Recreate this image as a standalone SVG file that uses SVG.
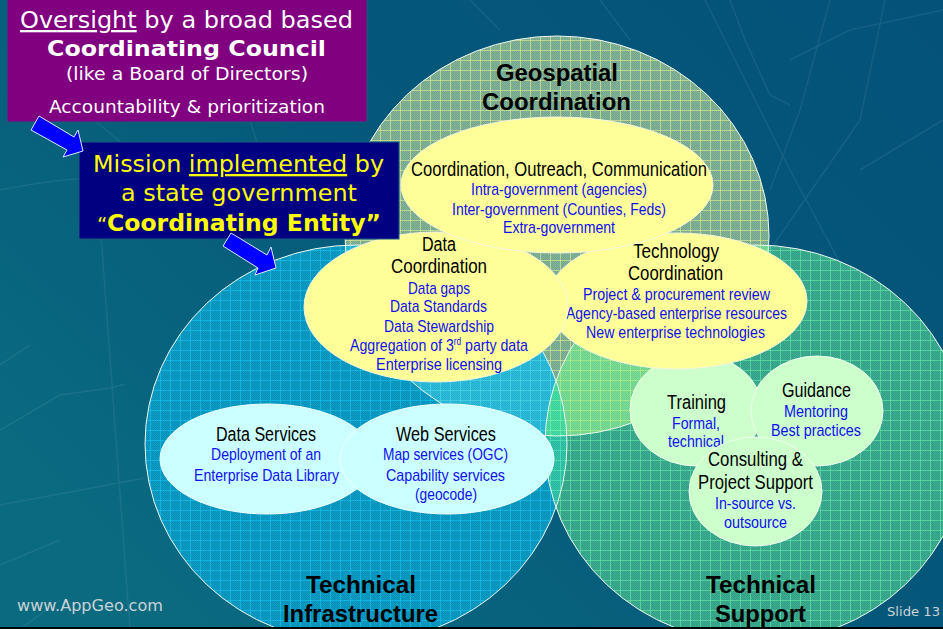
<svg xmlns="http://www.w3.org/2000/svg" width="943" height="629" viewBox="0 0 943 629">
<style>
text{text-anchor:start;font-family:"Liberation Sans",Arial,sans-serif}
.v{font-family:"DejaVu Sans",Verdana,sans-serif}
.big{font-size:24px;font-weight:bold;fill:#000}
.h{font-size:20px;fill:#000}
.b{font-size:17px;fill:#1010f0}
.w{fill:#fff}
.y{fill:#ff0}
.edge{fill:none;stroke:#eef8f0;stroke-width:1}
.yel{fill:#ffff99;stroke:#f4f4e0;stroke-width:1}
.grn{fill:#ccffcc;stroke:#f0fff0;stroke-width:1}
.cy{fill:#ccffff;stroke:#f0ffff;stroke-width:1}
.arrow{fill:#0000ff;stroke:#dfe8ff;stroke-width:1}
.map{fill:none;stroke:#fff;stroke-opacity:.07;stroke-width:1.5}
.foot{fill:#c9d2d6}
.g{fill:none;stroke-opacity:.65}
</style>
<defs>
<linearGradient id="bg" x1="1" y1="0" x2="0" y2="0.7">
<stop offset="0" stop-color="#04527a"/><stop offset="0.5" stop-color="#05587a"/><stop offset="1" stop-color="#0a6a80"/>
</linearGradient>
<pattern id="cG" width="2" height="2" patternUnits="userSpaceOnUse"><rect width="2" height="2" fill="#86b498"/><rect width="1" height="1" fill="#70a48c"/><rect x="1" y="1" width="1" height="1" fill="#70a48c"/></pattern>
<pattern id="cI" width="2" height="2" patternUnits="userSpaceOnUse"><rect width="2" height="2" fill="#0c9cc4"/><rect width="1" height="1" fill="#0890b8"/><rect x="1" y="1" width="1" height="1" fill="#0890b8"/></pattern>
<pattern id="cS" width="2" height="2" patternUnits="userSpaceOnUse"><rect width="2" height="2" fill="#3cac90"/><rect width="1" height="1" fill="#34a088"/><rect x="1" y="1" width="1" height="1" fill="#34a088"/></pattern>
<pattern id="cGS" width="2" height="2" patternUnits="userSpaceOnUse"><rect width="2" height="2" fill="#7cdc94"/><rect width="1" height="1" fill="#6cd090"/><rect x="1" y="1" width="1" height="1" fill="#6cd090"/></pattern>
<pattern id="cGI" width="2" height="2" patternUnits="userSpaceOnUse"><rect width="2" height="2" fill="#2cbcd8"/><rect width="1" height="1" fill="#24b0d0"/><rect x="1" y="1" width="1" height="1" fill="#24b0d0"/></pattern>
<pattern id="cIS" width="2" height="2" patternUnits="userSpaceOnUse"><rect width="2" height="2" fill="#30c4a8"/><rect width="1" height="1" fill="#2cb8a0"/><rect x="1" y="1" width="1" height="1" fill="#2cb8a0"/></pattern>
<pattern id="cT" width="2" height="2" patternUnits="userSpaceOnUse"><rect width="2" height="2" fill="#44dca0"/><rect width="1" height="1" fill="#3cd09c"/><rect x="1" y="1" width="1" height="1" fill="#3cd09c"/></pattern>
<pattern id="pG" width="10" height="10" patternUnits="userSpaceOnUse"><rect width="10" height="10" fill="url(#cG)"/><path class="g" d="M0 .5H10M.5 0V10" stroke="#e0ec90"/></pattern>
<pattern id="pI" width="10" height="10" patternUnits="userSpaceOnUse"><rect width="10" height="10" fill="url(#cI)"/><path class="g" d="M0 .5H10M.5 0V10" stroke="#14c4f0"/></pattern>
<pattern id="pS" width="10" height="10" patternUnits="userSpaceOnUse"><rect width="10" height="10" fill="url(#cS)"/><path class="g" d="M0 .5H10M.5 0V10" stroke="#64e8a4"/></pattern>
<pattern id="pGS" width="10" height="10" patternUnits="userSpaceOnUse"><rect width="10" height="10" fill="url(#cGS)"/><path class="g" d="M0 .5H10M.5 0V10" stroke="#b8f088"/></pattern>
<pattern id="pGI" width="10" height="10" patternUnits="userSpaceOnUse"><rect width="10" height="10" fill="url(#cGI)"/><path class="g" d="M0 .5H10M.5 0V10" stroke="#50d8e8"/></pattern>
<pattern id="pIS" width="10" height="10" patternUnits="userSpaceOnUse"><rect width="10" height="10" fill="url(#cIS)"/><path class="g" d="M0 .5H10M.5 0V10" stroke="#5ce8b8"/></pattern>
<pattern id="pT" width="10" height="10" patternUnits="userSpaceOnUse"><rect width="10" height="10" fill="url(#cT)"/><path class="g" d="M0 .5H10M.5 0V10" stroke="#80f0a8"/></pattern>
<clipPath id="clipI"><ellipse cx="356" cy="444" rx="211" ry="199"/></clipPath>
<clipPath id="clipS"><ellipse cx="756" cy="444" rx="211" ry="199"/></clipPath>
</defs>

<g id="background">
<rect width="943" height="629" fill="url(#bg)"/>
<path class="map" d="M0 190Q60 178 100 178M0 365L30 345M0 505L145 478M0 430L60 395L110 388L125 384M100 222L130 629M0 565L60 540M60 600L20 629"/>
<path class="map" d="M70 100L130 150M250 120L262 160M470 0L500 30M600 0L630 40M705 0L790 170L860 300M730 0L745 40L770 95L790 105M790 60L850 30L943 10M830 0L800 110L770 190M885 0L860 120L770 250M943 120L860 170"/>
</g>

<g id="circle-geospatial">
<ellipse cx="557" cy="236" rx="212" ry="200" fill="url(#pG)"/>
</g>
<g id="circle-infrastructure">
<ellipse cx="356" cy="444" rx="211" ry="199" fill="url(#pI)"/>
</g>
<g id="circle-support">
<ellipse cx="756" cy="444" rx="211" ry="199" fill="url(#pS)"/>
</g>
<g id="overlaps">
<g clip-path="url(#clipS)"><ellipse cx="557" cy="236" rx="212" ry="200" fill="url(#pGS)"/></g>
<g clip-path="url(#clipI)"><ellipse cx="557" cy="236" rx="212" ry="200" fill="url(#pGI)"/></g>
<g clip-path="url(#clipS)"><ellipse cx="356" cy="444" rx="211" ry="199" fill="url(#pIS)"/></g>
<g clip-path="url(#clipS)"><g clip-path="url(#clipI)"><ellipse cx="557" cy="236" rx="212" ry="200" fill="url(#pT)"/></g></g>
<ellipse class="edge" cx="557" cy="236" rx="212" ry="200"/>
<ellipse class="edge" cx="356" cy="444" rx="211" ry="199"/>
<ellipse class="edge" cx="756" cy="444" rx="211" ry="199"/>
</g>

<g id="label-geospatial">
<text class="big" x="496" y="81" textLength="122" lengthAdjust="spacingAndGlyphs">Geospatial</text>
<text class="big" x="482" y="110" textLength="149" lengthAdjust="spacingAndGlyphs">Coordination</text>
</g>
<g id="label-infrastructure">
<text class="big" x="306" y="593" textLength="110" lengthAdjust="spacingAndGlyphs">Technical</text>
<text class="big" x="283" y="622" textLength="155" lengthAdjust="spacingAndGlyphs">Infrastructure</text>
</g>
<g id="label-support">
<text class="big" x="706" y="593" textLength="110" lengthAdjust="spacingAndGlyphs">Technical</text>
<text class="big" x="715" y="622" textLength="91" lengthAdjust="spacingAndGlyphs">Support</text>
</g>

<g id="node-data-services">
<ellipse class="cy" cx="267" cy="459" rx="107" ry="55"/>
<text class="h" x="216" y="441" textLength="100" lengthAdjust="spacingAndGlyphs">Data Services</text>
<text class="b" x="211" y="460" textLength="110" lengthAdjust="spacingAndGlyphs">Deployment of an</text>
<text class="b" x="194" y="481" textLength="145" lengthAdjust="spacingAndGlyphs">Enterprise Data Library</text>
</g>
<g id="node-web-services">
<ellipse class="cy" cx="447" cy="459" rx="107" ry="55"/>
<text class="h" x="396" y="441" textLength="100" lengthAdjust="spacingAndGlyphs">Web Services</text>
<text class="b" x="383" y="460" textLength="125" lengthAdjust="spacingAndGlyphs">Map services (OGC)</text>
<text class="b" x="386" y="481" textLength="119" lengthAdjust="spacingAndGlyphs">Capability services</text>
<text class="b" x="415" y="500" textLength="62" lengthAdjust="spacingAndGlyphs">(geocode)</text>
</g>

<g id="node-training">
<ellipse class="grn" cx="696" cy="410" rx="66" ry="56"/>
<text class="h" x="667" y="409" textLength="59" lengthAdjust="spacingAndGlyphs">Training</text>
<text class="b" x="672" y="429" textLength="48" lengthAdjust="spacingAndGlyphs">Formal,</text>
<text class="b" x="668" y="447" textLength="56" lengthAdjust="spacingAndGlyphs">technical</text>
</g>
<g id="node-guidance">
<ellipse class="grn" cx="817" cy="411" rx="66" ry="55"/>
<text class="h" x="782" y="397" textLength="69" lengthAdjust="spacingAndGlyphs">Guidance</text>
<text class="b" x="784" y="417" textLength="64" lengthAdjust="spacingAndGlyphs">Mentoring</text>
<text class="b" x="771" y="436" textLength="90" lengthAdjust="spacingAndGlyphs">Best practices</text>
</g>
<g id="node-consulting">
<ellipse class="grn" cx="755.5" cy="491.5" rx="66.5" ry="54.5"/>
<text class="h" x="708" y="466" textLength="95" lengthAdjust="spacingAndGlyphs">Consulting &amp;</text>
<text class="h" x="698" y="489" textLength="115" lengthAdjust="spacingAndGlyphs">Project Support</text>
<text class="b" x="715" y="509" textLength="81" lengthAdjust="spacingAndGlyphs">In-source vs.</text>
<text class="b" x="724" y="528" textLength="63" lengthAdjust="spacingAndGlyphs">outsource</text>
</g>

<g id="node-technology-coordination">
<ellipse class="yel" cx="677" cy="301" rx="130" ry="68"/>
<text class="h" x="633" y="258" textLength="86" lengthAdjust="spacingAndGlyphs">Technology</text>
<text class="h" x="628" y="280" textLength="95" lengthAdjust="spacingAndGlyphs">Coordination</text>
<text class="b" x="583" y="300" textLength="187" lengthAdjust="spacingAndGlyphs">Project &amp; procurement review</text>
<text class="b" x="566" y="319" textLength="221" lengthAdjust="spacingAndGlyphs">Agency-based enterprise resources</text>
<text class="b" x="586" y="338" textLength="179" lengthAdjust="spacingAndGlyphs">New enterprise technologies</text>
</g>
<g id="node-data-coordination">
<ellipse class="yel" cx="436" cy="307" rx="132" ry="75"/>
<text class="h" x="422" y="251" textLength="34" lengthAdjust="spacingAndGlyphs">Data</text>
<text class="h" x="391" y="273" textLength="96" lengthAdjust="spacingAndGlyphs">Coordination</text>
<text class="b" x="408" y="294" textLength="62" lengthAdjust="spacingAndGlyphs">Data gaps</text>
<text class="b" x="390" y="312" textLength="97" lengthAdjust="spacingAndGlyphs">Data Standards</text>
<text class="b" x="384" y="332" textLength="110" lengthAdjust="spacingAndGlyphs">Data Stewardship</text>
<text class="b" x="350" y="351" textLength="178" lengthAdjust="spacingAndGlyphs">Aggregation of 3<tspan dy="-6" font-size="10">rd</tspan><tspan dy="6"> party data</tspan></text>
<text class="b" x="376" y="370" textLength="126" lengthAdjust="spacingAndGlyphs">Enterprise licensing</text>
</g>
<g id="node-outreach">
<ellipse class="yel" cx="557" cy="185" rx="156" ry="68"/>
<text class="h" x="411" y="176" textLength="296" lengthAdjust="spacingAndGlyphs">Coordination, Outreach, Communication</text>
<text class="b" x="471" y="195" textLength="176" lengthAdjust="spacingAndGlyphs">Intra-government (agencies)</text>
<text class="b" x="452" y="215" textLength="214" lengthAdjust="spacingAndGlyphs">Inter-government (Counties, Feds)</text>
<text class="b" x="503" y="233" textLength="112" lengthAdjust="spacingAndGlyphs">Extra-government</text>
</g>

<g id="node-council">
<rect x="7" y="-2" width="360" height="124" fill="#800080" stroke="#1a5a80"/>
<text class="v w" x="20" y="28" font-size="23" textLength="333" lengthAdjust="spacingAndGlyphs"><tspan text-decoration="underline">Oversight</tspan> by a broad based</text>
<text class="v w" x="47" y="56" font-size="22" font-weight="bold" textLength="279" lengthAdjust="spacingAndGlyphs">Coordinating Council</text>
<text class="v w" x="66" y="80" font-size="17" textLength="242" lengthAdjust="spacingAndGlyphs">(like a Board of Directors)</text>
<text class="v w" x="49" y="113" font-size="18" textLength="276" lengthAdjust="spacingAndGlyphs">Accountability &amp; prioritization</text>
</g>
<g id="node-entity">
<rect x="79" y="142" width="320" height="97" fill="#000080" stroke="#1a5a80"/>
<text class="v y" x="97" y="231" font-size="20">“</text>
<text class="v y" x="93" y="172" font-size="23" textLength="291" lengthAdjust="spacingAndGlyphs">Mission <tspan text-decoration="underline">implemented</tspan> by</text>
<text class="v y" x="121" y="201" font-size="23" textLength="236" lengthAdjust="spacingAndGlyphs">a state government</text>
<text class="v y" x="107" y="231" font-size="23" font-weight="bold" textLength="274" lengthAdjust="spacingAndGlyphs">Coordinating Entity”</text>
</g>

<g id="connectors">
<path class="arrow" d="M39 116L31 130L67 150L63 157L83 151L78 130L74 137Z"/>
<path class="arrow" d="M231 233L223 246L258 268L255 275L276 268L271 247L267 255Z"/>
</g>

<g id="footer">
<rect x="0" y="627" width="943" height="2" fill="#000"/>
<text class="v foot" x="17" y="611" font-size="15" textLength="146" lengthAdjust="spacingAndGlyphs">www.AppGeo.com</text>
<text class="v foot" x="887" y="616" font-size="13" textLength="53" lengthAdjust="spacingAndGlyphs">Slide 13</text>
</g>
</svg>
